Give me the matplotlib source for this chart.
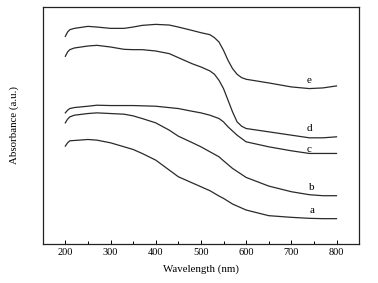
import matplotlib
matplotlib.use("Agg")
import matplotlib.pyplot as plt
from matplotlib.ticker import MultipleLocator, NullLocator

# wavelengths (nm) and absorbance (a.u.)
wl_de = [200, 205, 210, 220, 250, 270, 300, 330, 350, 370, 400, 430, 450, 480, 500,
         520, 530, 540, 550, 560, 570, 580, 590, 600, 650, 700, 740, 770, 800]
abs_e = [624, 637, 644, 648, 654, 652, 648, 648, 652, 657, 660, 658, 652, 642, 635,
         629, 620, 607, 582, 552, 527, 510, 500, 495, 484, 472, 467, 469, 475]
abs_d = [564, 577, 584, 589, 595, 597, 592, 585, 584, 584, 580, 572, 560, 542, 532,
         520, 510, 492, 467, 432, 397, 367, 354, 347, 337, 327, 319, 319, 322]

wl_c = [200, 205, 210, 220, 250, 270, 300, 350, 400, 450, 480, 500, 520, 540, 550,
        560, 580, 600, 650, 700, 740, 770, 800]
abs_c = [394, 402, 407, 410, 414, 417, 416, 416, 414, 407, 399, 394, 387, 377, 367,
         352, 327, 307, 292, 280, 272, 272, 272]

wl_ab = [200, 205, 210, 220, 250, 270, 300, 330, 350, 370, 400, 430, 450, 480, 500,
         520, 540, 550, 570, 600, 650, 700, 740, 770, 800]
abs_b = [364, 375, 382, 387, 392, 394, 392, 390, 385, 377, 364, 342, 324, 305, 292,
         277, 262, 250, 227, 200, 174, 157, 148, 145, 145]
abs_a = [294, 304, 310, 311, 314, 312, 304, 292, 284, 272, 252, 222, 202, 184, 172,
         160, 144, 137, 120, 102, 85, 80, 77, 76, 76]

labels = ["a", "b", "c", "d", "e"]
label_x = [745, 745, 740, 740, 740]
label_y = [100, 170, 285, 347, 490]

plt.rcParams["font.family"] = ["Liberation Serif", "DejaVu Serif"]

fig = plt.figure(figsize=(3.78, 2.83), dpi=100)
ax = fig.add_axes([0.113, 0.138, 0.837, 0.837])

lc = "#2a2a2a"
for x, y in [(wl_ab, abs_a), (wl_ab, abs_b), (wl_c, abs_c), (wl_de, abs_d), (wl_de, abs_e)]:
    ax.plot(x, y, color=lc, lw=0.9)

for t, x, y in zip(labels, label_x, label_y):
    ax.text(x, y, t, ha="center", va="center", fontsize=8)

ax.set_xlim(150, 850)
ax.set_ylim(0, 712)
ax.xaxis.set_major_locator(MultipleLocator(100))
ax.xaxis.set_minor_locator(MultipleLocator(50))
ax.yaxis.set_major_locator(NullLocator())
ax.tick_params(axis="x", which="both", direction="in", labelsize=7.5, pad=3)
ax.tick_params(axis="x", which="major", length=3, width=0.7)
ax.tick_params(axis="x", which="minor", length=2, width=0.7)
for s in ax.spines.values():
    s.set_linewidth(0.9)
    s.set_color("#222222")

ax.set_xlabel("Wavelength (nm)", fontsize=7.8, labelpad=5)
ax.set_ylabel("Absorbance (a.u.)", fontsize=7.8, labelpad=17)

fig.savefig("out.png", dpi=100)
